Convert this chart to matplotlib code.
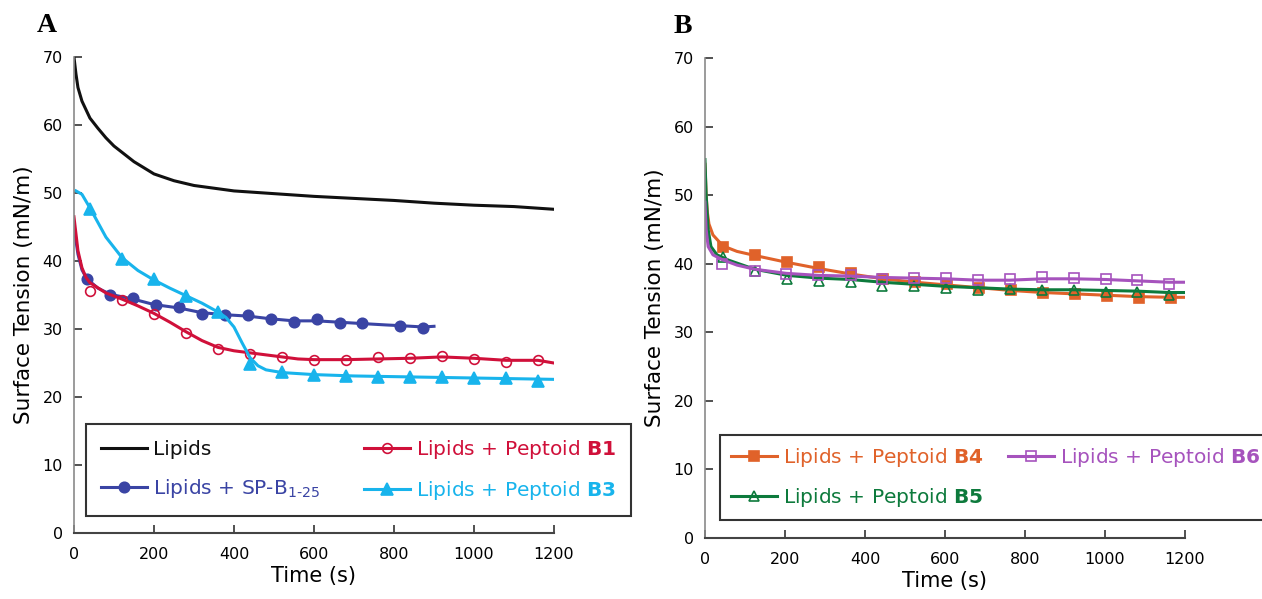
import matplotlib.pyplot as plt
from matplotlib.lines import Line2D

plt.rcParams['font.family'] = ['DejaVu Sans']
plt.rcParams['mathtext.fontset'] = 'dejavusans'

# ---- panel A data ----
lip_t = [0, 5, 10, 20, 40, 60, 80, 100, 150, 200, 250, 300, 400, 500, 600, 700, 800, 900, 1000, 1100, 1200]
lip_v = [70, 67.5, 65.5, 63.5, 61, 59.5, 58.1, 56.9, 54.6, 52.8, 51.8, 51.1, 50.3, 49.9, 49.5, 49.2, 48.9, 48.5, 48.2, 48.0, 47.6]

b1_t = [0, 5, 10, 20, 30, 40, 80, 120, 160, 200, 240, 280, 320, 360, 400, 440, 480, 520, 560, 600, 680, 760, 840, 920, 1000, 1080, 1160, 1200]
b1_v = [46.5, 44, 41.5, 39, 37.6, 36.8, 35.3, 34.4, 33.4, 32.3, 31.0, 29.6, 28.3, 27.3, 26.8, 26.5, 26.2, 25.9, 25.6, 25.5, 25.5, 25.6, 25.7, 25.9, 25.7, 25.4, 25.4, 25.0]
b1_mt = [40, 120, 200, 280, 360, 440, 520, 600, 680, 760, 840, 920, 1000, 1080, 1160]
b1_mv = [35.6, 34.2, 32.2, 29.4, 27.0, 26.3, 25.9, 25.5, 25.4, 25.9, 25.7, 26.0, 25.6, 25.2, 25.4]

spb_t = [0, 5, 10, 20, 32, 60, 91, 148, 200, 262, 320, 378, 435, 492, 550, 607, 664, 721, 780, 814, 873, 900]
spb_v = [45.5, 43, 41, 38.7, 37.4, 36.0, 35.1, 34.4, 33.6, 33.1, 32.4, 32.1, 31.9, 31.5, 31.2, 31.2, 31.0, 30.8, 30.6, 30.5, 30.3, 30.4]
spb_mt = [32, 91, 148, 205, 262, 320, 378, 435, 492, 550, 607, 664, 721, 814, 873]
spb_mv = [37.4, 35.0, 34.6, 33.5, 33.2, 32.2, 32.1, 32.0, 31.4, 31.0, 31.4, 30.9, 30.9, 30.5, 30.2]

b3_t = [5, 20, 40, 80, 120, 160, 200, 240, 280, 320, 360, 380, 400, 420, 440, 460, 480, 520, 600, 700, 800, 900, 1000, 1100, 1200]
b3_v = [50.3, 49.8, 47.8, 43.5, 40.5, 38.6, 37.2, 36.0, 34.9, 33.8, 32.5, 31.7, 30.3, 28.0, 25.8, 24.6, 24.0, 23.6, 23.3, 23.1, 23.0, 22.9, 22.8, 22.7, 22.6]
b3_mt = [40, 120, 200, 280, 360, 440, 520, 600, 680, 760, 840, 920, 1000, 1080, 1160]
b3_mv = [47.6, 40.3, 37.3, 34.8, 32.5, 24.8, 23.7, 23.3, 23.1, 23.0, 23.0, 22.9, 22.8, 22.8, 22.3]

# ---- panel B data ----
b4_t = [0, 3, 6, 10, 20, 45, 80, 125, 205, 285, 365, 445, 525, 605, 685, 765, 845, 925, 1005, 1085, 1165, 1200]
b4_v = [54.5, 50, 47.5, 45.8, 44.2, 42.6, 41.8, 41.2, 40.2, 39.3, 38.5, 37.8, 37.3, 36.9, 36.5, 36.1, 35.8, 35.6, 35.4, 35.2, 35.1, 35.1]
b4_mt = [45, 125, 205, 285, 365, 445, 525, 605, 685, 765, 845, 925, 1005, 1085, 1165]
b4_mv = [42.4, 41.3, 40.2, 39.5, 38.6, 37.8, 37.4, 37.0, 36.5, 36.1, 35.7, 35.6, 35.3, 35.0, 35.0]

b5_t = [0, 3, 8, 15, 30, 60, 124, 206, 285, 364, 443, 523, 602, 683, 762, 843, 922, 1002, 1081, 1160, 1200]
b5_v = [55.2, 50, 45, 42.5, 41.3, 40.5, 39.2, 38.3, 37.9, 37.7, 37.3, 37.0, 36.7, 36.5, 36.3, 36.2, 36.2, 36.1, 36.0, 35.8, 35.8]
b5_mt = [45, 124, 206, 285, 364, 443, 523, 602, 683, 762, 843, 922, 1002, 1081, 1160]
b5_mv = [41.0, 39.0, 37.7, 37.5, 37.4, 36.8, 36.7, 36.4, 36.2, 36.3, 36.2, 36.2, 35.9, 35.9, 35.4]

b6_t = [0, 3, 8, 20, 43, 80, 124, 203, 283, 364, 443, 523, 602, 683, 762, 843, 922, 1002, 1081, 1160, 1200]
b6_v = [49, 45, 42.5, 41.3, 40.6, 39.8, 39.2, 38.6, 38.3, 38.2, 38.0, 37.9, 37.8, 37.6, 37.6, 37.8, 37.8, 37.7, 37.5, 37.3, 37.3]
b6_mt = [43, 124, 203, 283, 364, 443, 523, 602, 683, 762, 843, 922, 1002, 1081, 1160]
b6_mv = [39.9, 39.0, 38.5, 38.3, 38.3, 37.8, 37.9, 37.9, 37.6, 37.8, 38.1, 37.9, 37.7, 37.6, 37.1]

black = '#111111'
red = '#d0103a'
blue = '#3a44a4'
cyan = '#18b4ec'
orange = '#e0622a'
green = '#0d7a3c'
purple = '#a653bd'

fig = plt.figure(figsize=(12.62, 5.99), dpi=100)
axA = fig.add_axes([0.0586, 0.110, 0.3804, 0.795])
axB = fig.add_axes([0.5586, 0.102, 0.3804, 0.801])


def style(ax):
    ax.set_xlim(0, 1200)
    ax.set_ylim(0, 70)
    ax.set_xticks(range(0, 1201, 200))
    ax.set_yticks(range(0, 71, 10))
    for s in ['top', 'right']:
        ax.spines[s].set_visible(False)
    ax.spines['left'].set_color('#8a8a8a')
    ax.spines['bottom'].set_color('#444444')
    ax.spines['left'].set_linewidth(1.2)
    ax.spines['bottom'].set_linewidth(1.5)
    ax.tick_params(direction='in', length=6, width=1.2, color='#333333', labelsize=11.5)
    ax.tick_params(axis='x', pad=10)
    ax.tick_params(axis='y', pad=8)
    ax.set_xlabel('Time (s)', fontsize=15, labelpad=3)
    ax.set_ylabel('Surface Tension (mN/m)', fontsize=15.5, labelpad=6)


def series(ax, t, v, mt, mv, color, marker, filled, ms):
    ax.plot(t, v, color=color, lw=2.2)
    if marker:
        ax.plot(mt, mv, ls='none', marker=marker, ms=ms, color=color,
                mfc=color if filled else 'none', mec=color, mew=1.2)
    return Line2D([], [], color=color, lw=2.2, marker=marker, ms=ms,
                  mfc=color if filled else 'none', mec=color, mew=1.2)


style(axA)
hA = [
    series(axA, lip_t, lip_v, [], [], black, None, True, 0),
    series(axA, spb_t, spb_v, spb_mt, spb_mv, blue, 'o', True, 7.5),
    series(axA, b1_t, b1_v, b1_mt, b1_mv, red, 'o', False, 7),
    series(axA, b3_t, b3_v, b3_mt, b3_mv, cyan, '^', True, 8),
]
labA = ['Lipids', r'Lipids + SP-B$_{\mathregular{1\text{-}25}}$',
        r'Lipids + Peptoid $\mathbf{B1}$', r'Lipids + Peptoid $\mathbf{B3}$']
colA = [black, blue, red, cyan]

style(axB)
hB = [
    series(axB, b4_t, b4_v, b4_mt, b4_mv, orange, 's', True, 7.5),
    series(axB, b5_t, b5_v, b5_mt, b5_mv, green, '^', False, 7.5),
    series(axB, b6_t, b6_v, b6_mt, b6_mv, purple, 's', False, 7),
]
labB = [r'Lipids + Peptoid $\mathbf{B4}$', r'Lipids + Peptoid $\mathbf{B5}$',
        r'Lipids + Peptoid $\mathbf{B6}$']
colB = [orange, green, purple]

for ax, h, lab, col, box, ls, bp in [
    (axA, hA, labA, colA, (0.026, 0.036, 1.134, 0.2), 0.9, 0.7),
    (axB, hB, labB, colB, (0.031, 0.0375, 1.15, 0.15), 0.85, 0.55),
]:
    leg = ax.legend(h, lab, ncol=2, loc='lower left', bbox_to_anchor=box, mode='expand',
                    fontsize=14.5, frameon=True, fancybox=False, handlelength=2.3,
                    handletextpad=0.3, labelspacing=ls, borderpad=bp, borderaxespad=0)
    leg.get_frame().set_edgecolor('black')
    leg.get_frame().set_linewidth(1.5)
    for txt, c in zip(leg.get_texts(), col):
        txt.set_color(c)

fig.text(0.037, 0.958, 'A', fontsize=20, fontweight='bold', family='Liberation Serif', va='center', ha='center')
fig.text(0.541, 0.955, 'B', fontsize=20, fontweight='bold', family='Liberation Serif', va='center', ha='center')

fig.savefig('out.png', dpi=100)
